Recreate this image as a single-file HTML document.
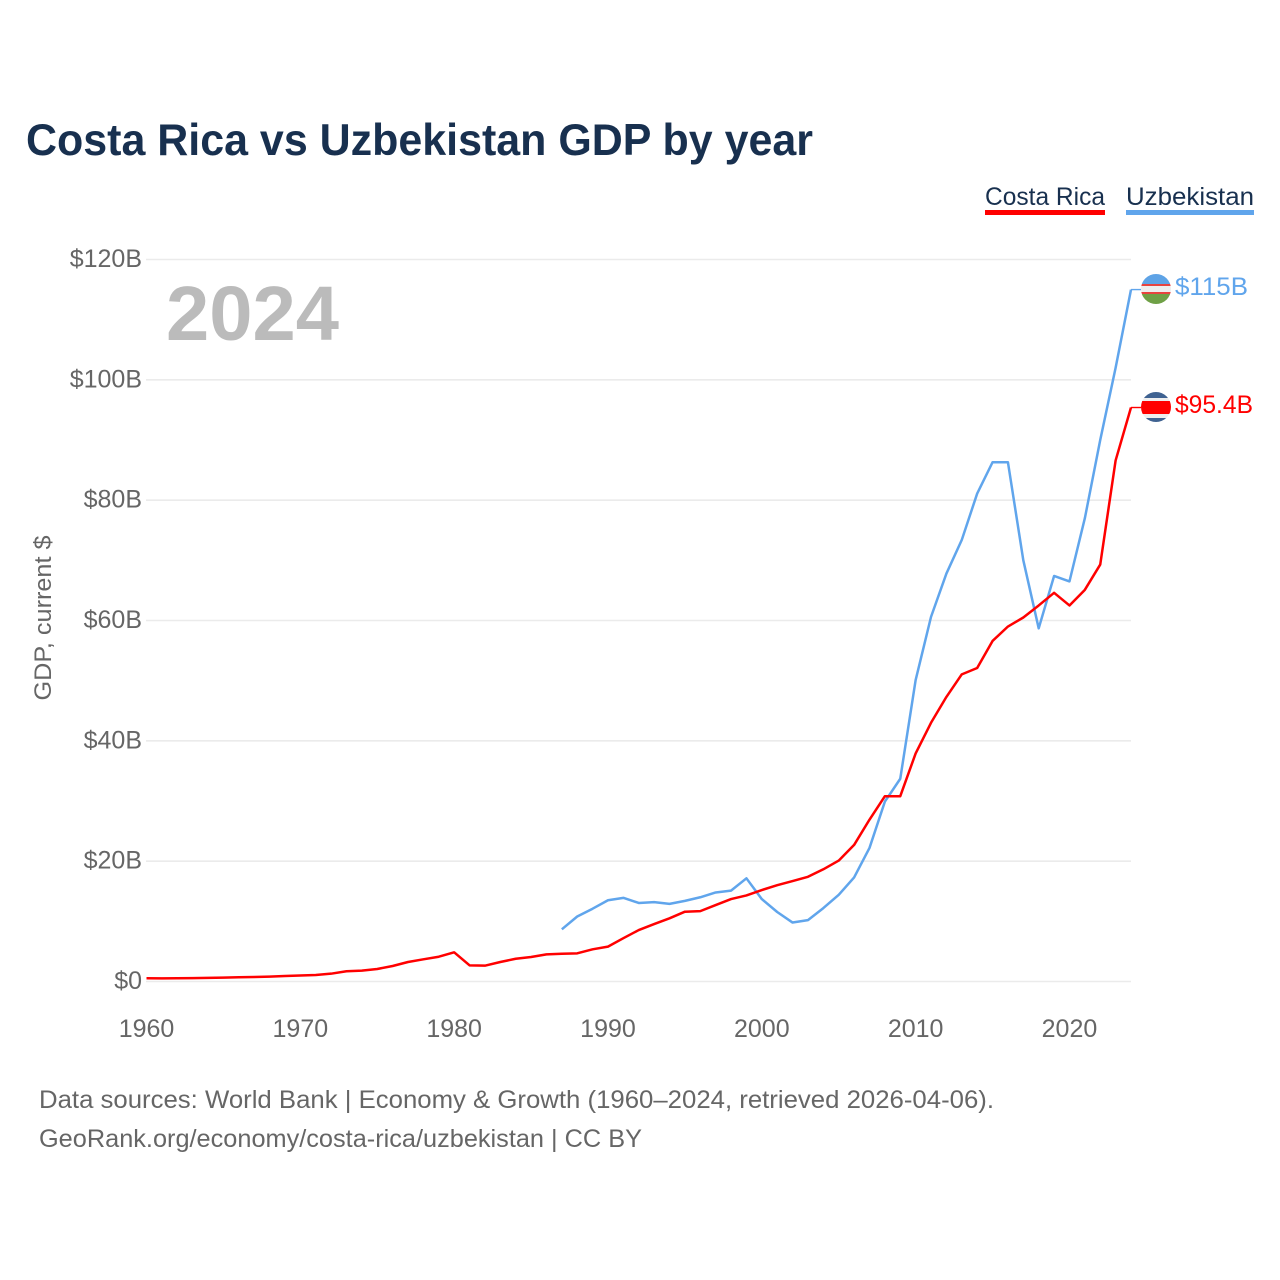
<!DOCTYPE html>
<html lang="en">
<head>
<meta charset="utf-8">
<title>Costa Rica vs Uzbekistan GDP by year</title>
<style>
  html, body { margin: 0; padding: 0; background: #fff; }
  svg { display: block; font-family: "Liberation Sans", sans-serif; }
</style>
</head>
<body>
<svg id="chart" xmlns="http://www.w3.org/2000/svg" width="1280" height="1280" viewBox="0 0 1280 1280">
  <rect width="1280" height="1280" fill="#fff"/>
  <text x="26" y="155" font-size="44.5" font-weight="700" fill="#18304f" textLength="787" lengthAdjust="spacingAndGlyphs">Costa Rica vs Uzbekistan GDP by year</text>

  <g>
    <text x="985" y="205" font-size="25" fill="#18304f" textLength="120" lengthAdjust="spacingAndGlyphs">Costa Rica</text>
    <rect x="985" y="210" width="120" height="5" fill="#ff0000"/>
  </g>
  <g>
    <text x="1126" y="205" font-size="25" fill="#18304f" textLength="128" lengthAdjust="spacingAndGlyphs">Uzbekistan</text>
    <rect x="1126" y="210" width="128" height="5" fill="#60a5ec"/>
  </g>

  <g id="grid"></g>
  <g id="y-axis"></g>
  <g id="x-axis"></g>

  <text transform="translate(51 618) rotate(-90)" text-anchor="middle" font-size="24.5" fill="#666" textLength="165" lengthAdjust="spacingAndGlyphs">GDP, current $</text>
  <text x="166" y="340" font-size="77" font-weight="700" fill="#bbbbbb" textLength="173" lengthAdjust="spacingAndGlyphs">2024</text>

  <g id="series"></g>

  <defs>
    <clipPath id="flag-clip-uz"><circle cx="1156" cy="289" r="15"/></clipPath>
    <clipPath id="flag-clip-cr"><circle cx="1156" cy="407" r="15"/></clipPath>
  </defs>
  <g clip-path="url(#flag-clip-uz)">
    <rect x="1140" y="273" width="32" height="11" fill="#5ea3e6"/>
    <rect x="1140" y="284" width="32" height="2" fill="#e8433f"/>
    <rect x="1140" y="286" width="32" height="6" fill="#eeeeee"/>
    <rect x="1140" y="292" width="32" height="2" fill="#e8433f"/>
    <rect x="1140" y="294" width="32" height="11" fill="#6fa046"/>
  </g>
  <g clip-path="url(#flag-clip-cr)">
    <rect x="1140" y="391" width="32" height="7" fill="#3f6291"/>
    <rect x="1140" y="398" width="32" height="3" fill="#eeeeee"/>
    <rect x="1140" y="401" width="32" height="13" fill="#ff0000"/>
    <rect x="1140" y="414" width="32" height="4" fill="#eeeeee"/>
    <rect x="1140" y="418" width="32" height="5" fill="#3f6291"/>
  </g>
  <text x="1175" y="295" font-size="25" fill="#60a5ec" textLength="73" lengthAdjust="spacingAndGlyphs">$115B</text>
  <text x="1175" y="413" font-size="25" fill="#ff0000" textLength="78" lengthAdjust="spacingAndGlyphs">$95.4B</text>

  <text x="39" y="1108" font-size="25" fill="#666" textLength="955" lengthAdjust="spacingAndGlyphs">Data sources: World Bank | Economy &amp; Growth (1960–2024, retrieved 2026-04-06).</text>
  <text x="39" y="1147" font-size="25" fill="#666" textLength="603" lengthAdjust="spacingAndGlyphs">GeoRank.org/economy/costa-rica/uzbekistan | CC BY</text>
</svg>
<script>
var yTickValues = [0, 20, 40, 60, 80, 100, 120];
var xTickYears = [1960, 1970, 1980, 1990, 2000, 2010, 2020];
var costaRicaStartYear = 1960;
var costaRicaValues = [0.53, 0.52, 0.53, 0.56, 0.6, 0.65, 0.7, 0.75, 0.82, 0.92, 1.0, 1.08, 1.3, 1.7, 1.8, 2.08, 2.58, 3.24, 3.69, 4.12, 4.85, 2.69, 2.63, 3.24, 3.78, 4.07, 4.5, 4.62, 4.68, 5.35, 5.8, 7.2, 8.55, 9.55, 10.5, 11.6, 11.7, 12.7, 13.7, 14.3, 15.2, 16, 16.7, 17.4, 18.65, 20.1, 22.7, 26.9, 30.8, 30.8, 37.9, 43, 47.3, 51.05, 52.1, 56.6, 59, 60.5, 62.5, 64.6, 62.5, 65.1, 69.3, 86.6, 95.4];
var uzbekistanStartYear = 1987;
var uzbekistanValues = [8.67, 10.8, 12.1, 13.5, 13.9, 13.05, 13.2, 12.9, 13.4, 14, 14.8, 15.1, 17.15, 13.7, 11.55, 9.8, 10.2, 12.2, 14.4, 17.3, 22.2, 29.9, 33.7, 50.1, 60.6, 67.8, 73.4, 81.1, 86.3, 86.3, 70, 58.7, 67.4, 66.5, 77, 90, 102, 115];

var SVG_NS = 'http://www.w3.org/2000/svg';
function xScale(year) { return 146.5 + (year - 1960) * (1131 - 146.5) / 64; }
function yScale(value) { return 981.5 - value * (981.5 - 259.5) / 120; }
function make(tag, attrs, parent) {
  var el = document.createElementNS(SVG_NS, tag);
  for (var key in attrs) { el.setAttribute(key, attrs[key]); }
  parent.appendChild(el);
  return el;
}

var gridGroup = document.getElementById('grid');
var yAxisGroup = document.getElementById('y-axis');
yTickValues.forEach(function (v) {
  var line = make('line', { x1: 146, x2: 1131, y1: yScale(v), y2: yScale(v), stroke: '#ebebeb', 'stroke-width': 1.6 }, gridGroup);
  
  
  var label = make('text', { x: 142, y: yScale(v) + 7.5, 'text-anchor': 'end', 'font-size': 25, fill: '#666' }, yAxisGroup);
  
  
  label.textContent = v === 0 ? '$0' : '$' + v + 'B';
});

var xAxisGroup = document.getElementById('x-axis');
xTickYears.forEach(function (year) {
  var label = make('text', { x: xScale(year), y: 1037, 'text-anchor': 'middle', 'font-size': 25, fill: '#666' }, xAxisGroup);
  
  
  label.textContent = year;
});

function drawSeries(values, startYear, color, name) {
  var group = document.getElementById('series');
  var points = values.map(function (v, i) {
    return xScale(startYear + i).toFixed(2) + ',' + yScale(v).toFixed(2);
  }).join(' ');
  var line = make('polyline', { points: points, fill: 'none', stroke: color, 'stroke-width': 2.5, 'stroke-linejoin': 'round' }, group);
  
  
  var last = values[values.length - 1];
  var lastYear = startYear + values.length - 1;
  var connector = make('line', { x1: xScale(lastYear), x2: xScale(lastYear) + 10, y1: yScale(last), y2: yScale(last), stroke: color, 'stroke-width': 1.4 }, group);
  
  
}
drawSeries(uzbekistanValues, uzbekistanStartYear, '#60a5ec', 'uzbekistan');
drawSeries(costaRicaValues, costaRicaStartYear, '#ff0000', 'costa-rica');
</script>
</body>
</html>
